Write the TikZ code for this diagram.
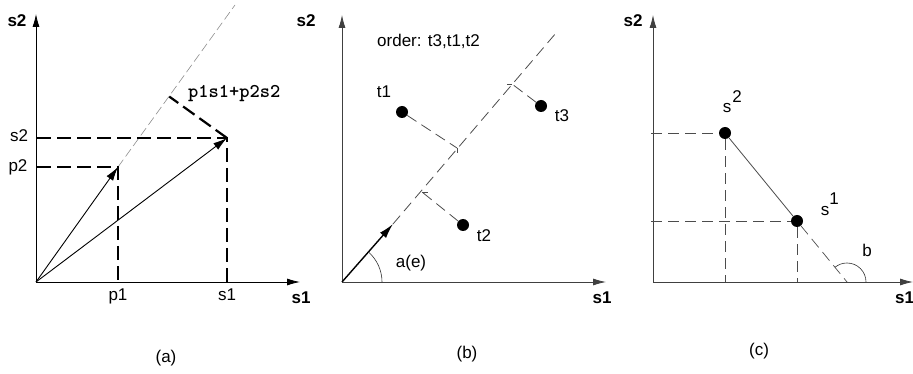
\documentclass[tikz,border=0pt]{standalone}
\usepackage{fontspec}
\setmainfont{Liberation Sans}
\usetikzlibrary{arrows.meta,calc}
\begin{document}
\begin{tikzpicture}[x=1pt,y=-1pt,
  lbl/.style={inner sep=0pt,anchor=base,font=\fontsize{17}{20}\selectfont},
  axlbl/.style={inner sep=0pt,anchor=base,font=\fontsize{17}{20}\selectfont\bfseries},
  axis/.style={line width=0.8pt,-{Latex[length=13pt,width=7pt]}},
  vec/.style={line width=0.9pt,-{Latex[length=14pt,width=8pt]}},
  thickdash/.style={line width=2.2pt,dash pattern=on 14pt off 6pt},
  lightdash/.style={line width=0.6pt,black!45,dash pattern=on 9pt off 4pt},
  graydash/.style={line width=0.8pt,black!70,dash pattern=on 11pt off 6pt},
  grayaxis/.style={line width=0.8pt,black!75,-{Latex[length=13pt,width=7pt]}},
  dot/.style={circle,fill=black,minimum size=12pt,inner sep=0pt},
  tick/.style={line width=0.8pt,black!70}
]
\useasboundingbox (0,0) rectangle (913,374);

% ---------------- panel (a)
\coordinate (Oa) at (36,282);
\coordinate (Xa) at (300,282);
\coordinate (Ya) at (36,14);
\coordinate (P) at (118,167);
\coordinate (S) at (227,138);
\coordinate (Ea) at (235,5);
\coordinate (P2a) at (37,167);
\coordinate (S2a) at (37,138);
\coordinate (P1a) at (118,282);
\coordinate (S1a) at (227,282);
\coordinate (Fa) at ($(Oa)!(S)!(Ea)$);
\draw[axis] (Oa) -- (Xa);
\draw[axis] (Oa) -- (Ya);
\draw[lightdash] (P) -- (Ea);
\draw[thickdash] (P2a) -- (P) -- (P1a);
\draw[thickdash] (S2a) -- (S) -- (S1a);
\draw[thickdash] (S) -- (Fa);
\draw[vec] (Oa) -- (P);
\draw[vec] (Oa) -- (S);
\node[axlbl] (la2) at (17,27) {s2};
\node[axlbl] (la1) at (301,303) {s1};
\node[lbl] (lp2) at (18,172) {p2};
\node[lbl] (ls2) at (19,142) {s2};
\node[lbl] (lp1) at (118,300) {p1};
\node[lbl] (ls1) at (227,300) {s1};
\node[inner sep=0pt,anchor=base west,font=\ttfamily\bfseries\fontsize{19.5}{20}\selectfont] (lsum) at (188,97.5) {p1s1+p2s2};
\node[lbl] (capa) at (166,362) {(a)};

% ---------------- panel (b)
\coordinate (Ob) at (342,282);
\coordinate (Xb) at (606,282);
\coordinate (Yb) at (342,15);
\coordinate (Ab) at (393,224);
\coordinate (Eb) at (556,33);
\coordinate (f1) at (457,148);
\coordinate (f2) at (422,192);
\coordinate (f3) at (512,84);
\draw[grayaxis] (Ob) -- (Xb);
\draw[grayaxis] (Ob) -- (Yb);
\draw[graydash] (Ab) -- (Eb);
\node[dot] (t1) at (402,112) {};
\node[dot] (t2) at (463,225) {};
\node[dot] (t3) at (541,106) {};
\draw[graydash] (t1) -- (f1);
\draw[graydash] (t2) -- (f2);
\draw[graydash] (t3) -- (f3);
\draw[tick] (f1) -- ++(0,5);
\draw[tick] (f2) -- ++(6,0);
\draw[tick] (f3) -- ++(-5,0);
\draw[line width=1.4pt,-{Latex[length=15pt,width=8pt]}] (Ob) -- (Ab);
\draw[line width=0.6pt,black!80] ($(Ob)+(40,0)$) arc[start angle=0,end angle=-49,radius=40];
\node[axlbl] (lb2) at (306,27) {s2};
\node[axlbl] (lb1) at (602,303) {s1};
\node[lbl,anchor=base west] (lord) at (377,47) {order: t3,t1,t2};
\node[lbl] (lt1) at (384,98) {t1};
\node[lbl] (lt2) at (484,242) {t2};
\node[lbl] (lt3) at (562,122) {t3};
\node[lbl] (lae) at (411,268) {a(e)};
\node[lbl] (capb) at (467,358) {(b)};

% ---------------- panel (c)
\coordinate (Oc) at (653,282);
\coordinate (Xc) at (913,282);
\coordinate (Yc) at (653,15);
\coordinate (Bc) at (847,282);
\coordinate (h2) at (651,133);
\coordinate (h1) at (651,221);
\coordinate (v2) at (725,282);
\coordinate (v1) at (797,282);
\draw[grayaxis] (Oc) -- (Xc);
\draw[grayaxis] (Oc) -- (Yc);
\node[dot] (sd2) at (725,133) {};
\node[dot] (sd1) at (797,221) {};
\draw[graydash,line width=0.7pt] (h2) -- (sd2) -- (v2);
\draw[graydash,line width=0.7pt] (h1) -- (sd1) -- (v1);
\draw[line width=0.8pt,black!70] (sd2) -- (sd1);
\draw[graydash,line width=0.7pt] (sd1) -- (Bc);
\draw[line width=0.6pt,black!80] ($(Bc)+(19,0)$) arc[start angle=0,end angle=-129,radius=19];
\node[axlbl] (lc2) at (633,27) {s2};
\node[axlbl,anchor=base west] (lc1) at (895,303) {s1};
\node[lbl] (ls2s) at (727,113) {s};
\node[lbl] (ls2e) at (737,103) {2};
\node[lbl] (ls1s) at (825,215) {s};
\node[lbl] (ls1e) at (834,205) {1};
\node[lbl] (lbang) at (867,257) {b};
\node[lbl] (capc) at (759,355) {(c)};
\end{tikzpicture}
\end{document}
